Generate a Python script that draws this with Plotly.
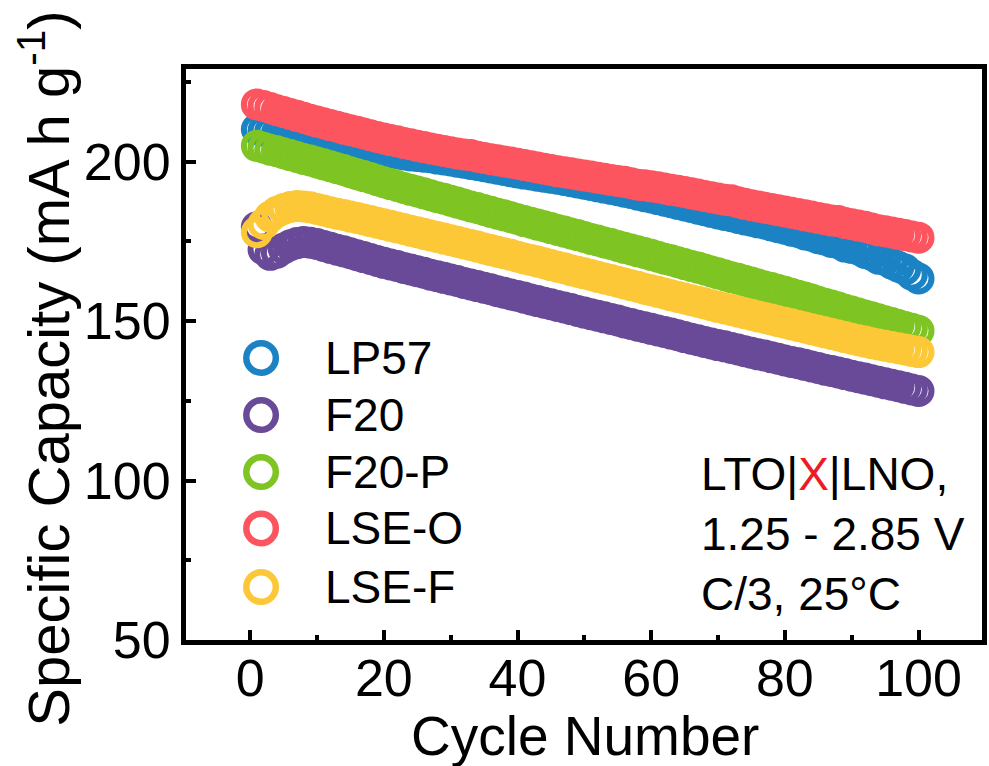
import plotly.graph_objects as go

cycles = list(range(1, 101))

lp57 = [210.2, 209.8, 209.4, 209.0, 208.6, 208.2, 207.8, 207.4, 207.0, 206.6,
        206.2, 205.9, 205.5, 205.2, 204.8, 204.5, 204.2, 203.8, 203.5, 203.2,
        202.9, 202.6, 202.3, 202.0, 201.8, 201.6, 201.4, 201.0, 200.7, 200.4,
        200.0, 199.7, 199.3, 199.0, 198.6, 198.2, 197.8, 197.4, 197.0, 196.6,
        196.3, 196.0, 195.6, 195.3, 195.0, 194.7, 194.3, 193.9, 193.5, 193.1,
        192.7, 192.3, 191.9, 191.5, 191.1, 190.6, 190.2, 189.7, 189.2, 188.8,
        188.3, 187.8, 187.3, 186.8, 186.3, 185.8, 185.3, 184.8, 184.3, 183.8,
        183.3, 182.9, 182.4, 181.9, 181.5, 181.0, 180.6, 180.0, 179.5, 179.0,
        178.4, 178.0, 177.2, 176.8, 176.0, 175.6, 174.8, 174.5, 173.4, 173.0,
        172.5, 171.4, 170.8, 169.6, 169.2, 168.0, 167.1, 166.2, 164.6, 163.4]

f20 = [179.5, 172.5, 170.8, 171.5, 172.8, 173.8, 174.5, 174.8, 174.6, 174.2,
       173.6, 173.0, 172.4, 171.9, 171.3, 170.7, 170.1, 169.5, 168.9, 168.3,
       167.8, 167.3, 166.7, 166.2, 165.7, 165.2, 164.6, 164.1, 163.6, 163.1,
       162.6, 162.0, 161.5, 161.0, 160.5, 160.0, 159.4, 158.9, 158.4, 157.9,
       157.4, 156.8, 156.3, 155.8, 155.3, 154.8, 154.3, 153.8, 153.2, 152.7,
       152.2, 151.7, 151.2, 150.7, 150.2, 149.6, 149.1, 148.6, 148.1, 147.6,
       147.1, 146.6, 146.1, 145.6, 145.0, 144.5, 144.0, 143.5, 143.0, 142.5,
       142.1, 141.6, 141.1, 140.6, 140.1, 139.6, 139.2, 138.7, 138.2, 137.7,
       137.2, 136.8, 136.3, 135.8, 135.3, 134.8, 134.4, 133.9, 133.4, 132.9,
       132.4, 132.0, 131.5, 131.0, 130.5, 130.1, 129.6, 129.1, 128.6, 128.1]

f20p = [205.0, 204.4, 203.8, 203.3, 202.7, 202.1, 201.5, 200.9, 200.4, 199.8,
        199.2, 198.6, 198.0, 197.4, 196.7, 196.1, 195.5, 194.9, 194.2, 193.6,
        193.0, 192.4, 191.8, 191.2, 190.7, 190.1, 189.5, 188.9, 188.4, 187.8,
        187.2, 186.6, 186.0, 185.5, 184.9, 184.3, 183.7, 183.2, 182.6, 182.0,
        181.4, 180.9, 180.3, 179.8, 179.2, 178.6, 178.1, 177.5, 177.0, 176.4,
        175.8, 175.3, 174.7, 174.2, 173.6, 173.0, 172.5, 171.9, 171.4, 170.8,
        170.2, 169.6, 169.1, 168.5, 167.9, 167.3, 166.8, 166.2, 165.6, 165.0,
        164.4, 163.8, 163.3, 162.7, 162.1, 161.5, 160.9, 160.4, 159.8, 159.2,
        158.6, 158.0, 157.4, 156.8, 156.1, 155.5, 154.9, 154.3, 153.6, 153.0,
        152.4, 151.8, 151.2, 150.6, 150.0, 149.4, 148.8, 148.2, 147.6, 147.0]

lse_o = [218.0, 217.5, 216.9, 216.2, 215.6, 215.0, 214.4, 213.8, 213.2, 212.6,
         212.1, 211.5, 211.0, 210.4, 209.9, 209.4, 208.9, 208.3, 207.8, 207.3,
         206.8, 206.4, 205.9, 205.5, 205.0, 204.6, 204.2, 203.8, 203.4, 203.0,
         202.6, 202.3, 202.1, 201.6, 201.2, 200.8, 200.5, 200.1, 199.8, 199.4,
         199.0, 198.6, 198.2, 197.8, 197.4, 197.0, 196.7, 196.4, 196.0, 195.7,
         195.4, 195.0, 194.7, 194.3, 194.0, 193.7, 193.3, 192.8, 192.6, 192.3,
         192.0, 191.6, 191.2, 190.9, 190.5, 190.1, 189.7, 189.3, 188.9, 188.5,
         188.1, 187.9, 187.3, 186.8, 186.4, 186.0, 185.6, 185.2, 184.8, 184.4,
         184.0, 183.6, 183.2, 182.8, 182.4, 182.0, 181.6, 181.4, 180.8, 180.4,
         180.0, 179.6, 179.1, 178.5, 178.2, 177.8, 177.4, 177.0, 176.6, 176.2]

lse_f = [177.9, 180.5, 182.8, 184.3, 185.2, 185.8, 186.1, 186.0, 185.7, 185.2,
         184.7, 184.2, 183.7, 183.3, 182.8, 182.4, 181.9, 181.4, 180.9, 180.4,
         179.9, 179.4, 178.9, 178.4, 177.9, 177.4, 176.9, 176.4, 175.9, 175.4,
         174.9, 174.4, 173.9, 173.4, 172.8, 172.3, 171.8, 171.3, 170.8, 170.2,
         169.7, 169.2, 168.7, 168.2, 167.6, 167.1, 166.6, 166.0, 165.5, 165.0,
         164.5, 163.9, 163.4, 162.9, 162.4, 161.8, 161.3, 160.8, 160.2, 159.7,
         159.2, 158.7, 158.1, 157.6, 157.1, 156.6, 156.1, 155.6, 155.0, 154.5,
         154.0, 153.5, 153.0, 152.5, 152.0, 151.5, 151.0, 150.5, 150.0, 149.5,
         149.0, 148.5, 148.0, 147.5, 147.0, 146.5, 146.0, 145.5, 145.0, 144.5,
         144.0, 143.6, 143.1, 142.7, 142.3, 141.9, 141.5, 141.1, 140.7, 140.3]

series_names = ["LP57", "F20", "F20-P", "LSE-O", "LSE-F"]
series_values = [lp57, f20, f20p, lse_o, lse_f]
series_colors = ["#1B83C4", "#694A99", "#7EC422", "#FC5560", "#FDC837"]

x_ticks = [0, 20, 40, 60, 80, 100]
y_ticks = [50, 100, 150, 200]

FONT = "Liberation Sans, Arial, sans-serif"

fig = go.Figure()
for name, vals, col in zip(series_names, series_values, series_colors):
    fig.add_trace(go.Scatter(
        x=cycles, y=vals, mode="markers", name=name,
        marker=dict(symbol="circle-open", size=26, color=col,
                    line=dict(width=6, color=col)),
        showlegend=False, cliponaxis=False,
    ))

# custom legend (large symbols)
leg_y = [0.4939, 0.3940, 0.2942, 0.1953, 0.0928]
shapes = []
annotations = []
for name, col, yy in zip(series_names, series_colors, leg_y):
    shapes.append(dict(type="circle", xref="paper", yref="paper",
                       xsizemode="pixel", ysizemode="pixel",
                       xanchor=0.0943, yanchor=yy,
                       x0=-14.75, x1=14.75, y0=-14.75, y1=14.75,
                       line=dict(color=col, width=6.5), fillcolor="white"))
    annotations.append(dict(xref="paper", yref="paper", x=0.1720, y=yy,
                            xanchor="left", yanchor="middle", showarrow=False,
                            text=name, font=dict(family=FONT, size=46, color="black")))

annotations.append(dict(
    xref="paper", yref="paper", x=0.644, y=0.186, xanchor="left", yanchor="middle",
    align="left", showarrow=False,
    text="LTO|<span style='color:#ED1C24'>X</span>|LNO,<br>1.25 - 2.85 V<br>C/3, 25°C",
    font=dict(family=FONT, size=46, color="black")))

annotations.append(dict(
    xref="paper", yref="paper", x=0.501, y=-0.168, xanchor="center", yanchor="middle",
    showarrow=False, text="Cycle Number",
    font=dict(family=FONT, size=55, color="black")))

annotations.append(dict(
    xref="paper", yref="paper", x=-0.1773, y=0.475, xanchor="center", yanchor="middle",
    showarrow=False, textangle=-90, text="Specific Capacity (mA h g<sup>-1</sup>)",
    font=dict(family=FONT, size=58, color="black")))

axis_common = dict(
    showline=True, linewidth=5, linecolor="black", mirror=True,
    ticks="inside", ticklen=10, tickwidth=4, tickcolor="black",
    showgrid=False, zeroline=False,
    tickfont=dict(family=FONT, size=52, color="black"),
)

fig.update_layout(
    width=989, height=766,
    margin=dict(l=186, r=2, t=69, b=126),
    paper_bgcolor="white", plot_bgcolor="white",
    shapes=shapes, annotations=annotations,
    xaxis=dict(range=[-9.6, 109.5], tickvals=x_ticks, ticklabelstandoff=-11,
               minor=dict(ticks="inside", ticklen=5, tickwidth=4, tickcolor="black", dtick=10, tick0=0),
               **axis_common),
    yaxis=dict(range=[50, 229.1], tickvals=y_ticks,
               minor=dict(ticks="inside", ticklen=5, tickwidth=4, tickcolor="black", dtick=25, tick0=0),
               **axis_common),
)

fig.write_html("out.html")
